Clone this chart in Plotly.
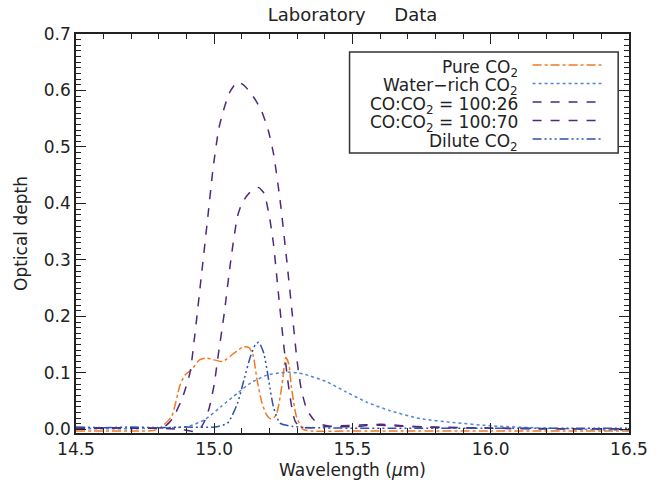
import plotly.graph_objects as go

# Laboratory CO2 bending-mode profiles: wavelength (micron) vs optical depth
pure_x = [14.50, 14.60, 14.70, 14.78, 14.811, 14.846, 14.876, 14.894, 14.917, 14.947, 14.971, 15.000,
          15.030, 15.072, 15.105, 15.125, 15.140, 15.155, 15.173, 15.190, 15.202, 15.214, 15.226,
          15.244, 15.259, 15.270, 15.279, 15.297, 15.321, 15.350, 15.50, 15.70, 16.00, 16.30, 16.50]
pure_y = [-0.003, -0.003, -0.003, -0.002, 0.005, 0.023, 0.078, 0.096, 0.105, 0.123, 0.126, 0.123,
          0.120, 0.135, 0.146, 0.145, 0.132, 0.087, 0.046, 0.025, 0.019, 0.020, 0.028,
          0.075, 0.127, 0.115, 0.075, 0.023, 0.000, -0.003, -0.003, -0.003, -0.003, -0.003, -0.003]

water_x = [14.50, 14.60, 14.70, 14.763, 14.85, 14.906, 14.965, 15.024, 15.084, 15.131, 15.190, 15.238,
           15.270, 15.300, 15.323, 15.407, 15.478, 15.552, 15.636, 15.744, 15.864, 16.009, 16.20,
           16.44, 16.50]
water_y = [0.001, 0.001, 0.001, 0.002, 0.003, 0.005, 0.017, 0.040, 0.064, 0.082, 0.096, 0.100,
           0.101, 0.100, 0.098, 0.084, 0.066, 0.048, 0.033, 0.019, 0.012, 0.006, 0.002,
           -0.001, -0.001]

co26_x = [14.50, 14.60, 14.70, 14.80, 14.88, 14.93, 14.953, 14.970, 14.983, 15.000, 15.012, 15.036,
          15.060, 15.084, 15.100, 15.119, 15.140, 15.161, 15.180, 15.200, 15.214, 15.232, 15.250,
          15.265, 15.280, 15.292, 15.310, 15.350, 15.45, 15.55, 15.65, 15.80, 16.00, 16.20, 16.50]
co26_y = [0.002, 0.002, 0.003, 0.002, 0.000, -0.004, 0.004, 0.020, 0.040, 0.080, 0.123, 0.205,
          0.300, 0.377, 0.400, 0.414, 0.425, 0.428, 0.418, 0.375, 0.329, 0.241, 0.155,
          0.090, 0.040, 0.015, 0.004, 0.003, 0.006, 0.008, 0.006, 0.004, 0.002, 0.001, 0.001]

co70_x = [14.50, 14.60, 14.70, 14.78, 14.82, 14.846, 14.882, 14.912, 14.929, 14.953, 14.977, 14.995,
          15.018, 15.054, 15.084, 15.110, 15.140, 15.170, 15.195, 15.214, 15.238, 15.262, 15.283,
          15.300, 15.315, 15.335, 15.360, 15.380, 15.42, 15.52, 15.60, 15.67, 15.75, 15.85, 16.00,
          16.20, 16.50]
co70_y = [0.002, 0.003, 0.002, 0.002, 0.005, 0.017, 0.052, 0.100, 0.164, 0.270, 0.377, 0.459,
          0.536, 0.595, 0.615, 0.608, 0.590, 0.565, 0.530, 0.489, 0.406, 0.300, 0.200,
          0.120, 0.070, 0.035, 0.017, 0.010, 0.005, 0.005, 0.009, 0.007, 0.004, 0.003, 0.002,
          0.001, 0.001]

dilute_x = [14.50, 14.60, 14.70, 14.80, 14.90, 15.000, 15.048, 15.084, 15.107, 15.131, 15.149, 15.161,
            15.179, 15.197, 15.214, 15.238, 15.285, 15.35, 15.50, 15.70, 16.00, 16.30, 16.50]
dilute_y = [0.004, 0.003, 0.004, 0.003, 0.004, 0.004, 0.011, 0.046, 0.087, 0.129, 0.150, 0.154,
            0.135, 0.087, 0.040, 0.011, 0.005, 0.003, 0.002, 0.002, 0.002, 0.002, 0.002]

x_ticks = [14.5, 15.0, 15.5, 16.0, 16.5]
y_ticks = [0.0, 0.1, 0.2, 0.3, 0.4, 0.5, 0.6, 0.7]

ORANGE = "#f07a24"
LBLUE = "#4f86d8"
PURPLE = "#4e2a7c"
DBLUE = "#2f50aa"
DILUTE_DASH = "9px,3px,2px,3px,2px,3px,2px,3px"

series = [
    ("Pure CO<sub>2</sub>", pure_x, pure_y, ORANGE, "dashdot"),
    ("Water\u2212rich CO<sub>2</sub>", water_x, water_y, LBLUE, "dot"),
    ("CO:CO<sub>2</sub> = 100:26", co26_x, co26_y, PURPLE, "dash"),
    ("CO:CO<sub>2</sub> = 100:70", co70_x, co70_y, PURPLE, "dash"),
    ("Dilute CO<sub>2</sub>", dilute_x, dilute_y, DBLUE, DILUTE_DASH),
]

FONT = "DejaVu Sans"
TXT = "#222222"
fig = go.Figure()
for name, xs, ys, col, dash in series:
    fig.add_trace(go.Scatter(x=xs, y=ys, mode="lines", name=name, showlegend=False,
                             line=dict(color=col, width=1.5, dash=dash,
                                       shape="spline", smoothing=0.6)))

# plot-area geometry in pixels
L, R, T, B = 76, 22, 34, 58
W, H = 660, 491
pw, ph = W - L - R, H - T - B


def px(xp):
    return (xp - L) / pw


def py(yp):
    return (H - B - yp) / ph


# legend panel: labels right-aligned, line samples on the right
shapes = [dict(type="rect", xref="paper", yref="paper",
               x0=px(354), x1=px(627), y0=py(153), y1=py(52),
               line=dict(color="#333333", width=1.5))]
annotations = []
row_y = [65, 83.5, 102, 120.5, 139]
for (name, xs, ys, col, dash), ry in zip(series, row_y):
    shapes.append(dict(type="line", xref="paper", yref="paper",
                       x0=px(540), x1=px(610), y0=py(ry), y1=py(ry),
                       line=dict(color=col, width=1.5, dash=dash)))
    annotations.append(dict(text=name, xref="paper", yref="paper", x=px(527), y=py(ry + 3),
                            xanchor="right", yanchor="middle", showarrow=False,
                            font=dict(family=FONT, size=17, color=TXT)))

axis_common = dict(showline=True, linecolor=TXT, linewidth=1.5, mirror="ticks",
                   ticks="inside", ticklen=10, tickwidth=1, tickcolor=TXT,
                   showgrid=False, zeroline=False,
                   tickfont=dict(family=FONT, size=17, color=TXT))

fig.update_layout(
    width=W, height=H,
    margin=dict(l=L, r=R, t=T, b=B),
    paper_bgcolor="white", plot_bgcolor="white",
    title=dict(text="Laboratory&nbsp;&nbsp;&nbsp;&nbsp;&nbsp;Data", x=px((L + W - R) / 2), xref="paper",
               xanchor="center", y=1 - 15 / H, yanchor="middle", yref="container",
               font=dict(family=FONT, size=18, color=TXT)),
    xaxis=dict(range=[14.5, 16.5], tickvals=x_ticks, tickformat=".1f",
               minor=dict(dtick=0.1, ticklen=5, ticks="inside", tickcolor=TXT),
               title=dict(text="Wavelength (<i>\u03bc</i>m)", standoff=6,
                          font=dict(family=FONT, size=17, color=TXT)),
               **axis_common),
    yaxis=dict(range=[-0.0065, 0.7], tickvals=y_ticks, tickformat=".1f",
               minor=dict(dtick=0.01, ticklen=5, ticks="inside", tickcolor=TXT),
               title=dict(text="Optical depth", standoff=12,
                          font=dict(family=FONT, size=17, color=TXT)),
               **axis_common),
    shapes=shapes, annotations=annotations,
    showlegend=False,
)

fig.write_html("out.html")
